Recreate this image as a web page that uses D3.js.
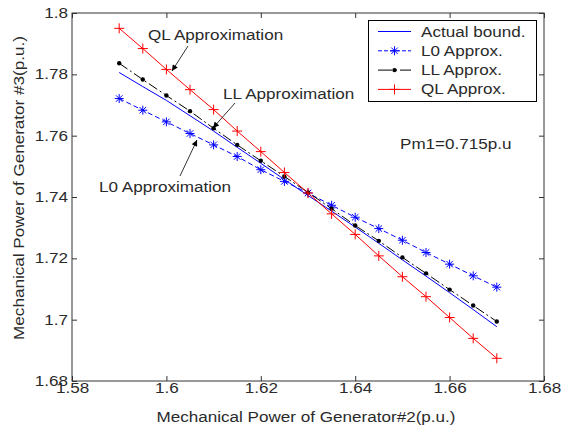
<!DOCTYPE html>
<html>
<head>
<meta charset="utf-8">
<script src="https://cdn.jsdelivr.net/npm/d3@7"></script>
<style>
  body { margin: 0; background: #fff; }
  svg text { font-family: "Liberation Sans", Arial, sans-serif; fill: #2a2a2a; }
</style>
</head>
<body>
<div id="chart"></div>
<script>
// x values (Generator #2 power), shared by every series
const xs = [1.59, 1.595, 1.6, 1.605, 1.61, 1.615, 1.62, 1.625, 1.63, 1.635, 1.64, 1.645, 1.65, 1.655, 1.66, 1.665, 1.67];

const actualBound = [1.7806, 1.7760, 1.7715, 1.7665, 1.7615, 1.7562, 1.7510, 1.7457, 1.7405, 1.7354, 1.7302, 1.7249, 1.7195, 1.7142, 1.7088, 1.7033, 1.6977];
const l0Approx = [1.7721, 1.7683, 1.7645, 1.7607, 1.7570, 1.7532, 1.7489, 1.7451, 1.7413, 1.7373, 1.7334, 1.7297, 1.7259, 1.7219, 1.7181, 1.7143, 1.7106];
const llApprox = [1.7836, 1.7783, 1.7731, 1.7680, 1.7624, 1.7570, 1.7518, 1.7467, 1.7415, 1.7362, 1.7307, 1.7257, 1.7203, 1.7151, 1.7098, 1.7046, 1.6994];
const qlApprox = [1.7950, 1.7884, 1.7816, 1.7750, 1.7685, 1.7615, 1.7548, 1.7480, 1.7413, 1.7345, 1.7278, 1.7208, 1.7140, 1.7075, 1.7007, 1.6939, 1.6874];

const xTicks = [1.58, 1.6, 1.62, 1.64, 1.66, 1.68];
const yTicks = [1.68, 1.7, 1.72, 1.74, 1.76, 1.78, 1.8];

const W = 561, H = 429;
const plot = { left: 72, right: 544, top: 13, bottom: 381 };
const fontSize = 14;
const stretch = 1.22; // the original font is wider than Arial at the same height

const svg = d3.select("#chart").append("svg")
  .attr("width", W).attr("height", H);

const x = d3.scaleLinear().domain([1.58, 1.68]).range([plot.left, plot.right]);
const y = d3.scaleLinear().domain([1.68, 1.8]).range([plot.bottom, plot.top]);

const axisColor = "#333";

// Axes (MATLAB style, inward ticks on all four sides)
function styleAxis(g) {
  g.select(".domain").remove();
  g.selectAll(".tick line").attr("stroke", axisColor);
  g.selectAll(".tick text").attr("font-size", fontSize).attr("fill", "#2a2a2a");
}
svg.append("g").attr("transform", `translate(0,${plot.bottom})`)
  .call(d3.axisBottom(x).tickValues(xTicks).tickSizeInner(-5).tickSizeOuter(0).tickPadding(2).tickFormat(d3.format("")))
  .call(styleAxis);
svg.append("g").attr("transform", `translate(0,${plot.top})`)
  .call(d3.axisTop(x).tickValues(xTicks).tickSizeInner(-5).tickSizeOuter(0).tickFormat(""))
  .call(styleAxis);
svg.append("g").attr("transform", `translate(${plot.left},0)`)
  .call(d3.axisLeft(y).tickValues(yTicks).tickSizeInner(-5).tickSizeOuter(0).tickPadding(4).tickFormat(d3.format("")))
  .call(styleAxis);
svg.append("g").attr("transform", `translate(${plot.right},0)`)
  .call(d3.axisRight(y).tickValues(yTicks).tickSizeInner(-5).tickSizeOuter(0).tickFormat(""))
  .call(styleAxis);

svg.append("rect")
  .attr("x", plot.left).attr("y", plot.top)
  .attr("width", plot.right - plot.left).attr("height", plot.bottom - plot.top)
  .attr("fill", "none").attr("stroke", axisColor);

// Axis labels
svg.append("text")
  .attr("x", 306).attr("y", 422)
  .attr("text-anchor", "middle").attr("font-size", fontSize)
  .text("Mechanical Power of Generator#2(p.u.)");
svg.append("text")
  .attr("transform", "translate(24,188) rotate(-90)")
  .attr("text-anchor", "middle").attr("font-size", fontSize)
  .text("Mechanical Power of Generator #3(p.u.)");

// Marker drawing helpers
function plus(g, cx, cy, color, s) {
  g.append("path").attr("d", `M${cx - s},${cy}H${cx + s}M${cx},${cy - s}V${cy + s}`)
    .attr("stroke", color).attr("stroke-width", 1).attr("fill", "none");
}
function star(g, cx, cy, color, s) {
  const d = s * 0.72;
  g.append("path").attr("d", `M${cx - s},${cy}H${cx + s}M${cx},${cy - s}V${cy + s}M${cx - d},${cy - d}L${cx + d},${cy + d}M${cx - d},${cy + d}L${cx + d},${cy - d}`)
    .attr("stroke", color).attr("stroke-width", 1).attr("fill", "none");
}
function dot(g, cx, cy, color) {
  g.append("circle").attr("cx", cx).attr("cy", cy).attr("r", 2.2).attr("fill", color);
}

const series = [
  { name: "Actual bound.", values: actualBound, color: "#0000ff", dash: null, marker: null },
  { name: "L0 Approx.", values: l0Approx, color: "#0000ff", dash: "5,3", marker: "star" },
  { name: "LL Approx.", values: llApprox, color: "#000", dash: "10,3,2,3", marker: "dot" },
  { name: "QL Approx.", values: qlApprox, color: "#ff0000", dash: null, marker: "plus" }
];

const line = d3.line().x(d => x(d[0])).y(d => y(d[1]));
const marks = svg.append("g");

function drawMarker(g, type, cx, cy, color) {
  if (type === "plus") plus(g, cx, cy, color, 5);
  else if (type === "star") star(g, cx, cy, color, 4.5);
  else if (type === "dot") dot(g, cx, cy, color);
}

series.forEach(s => {
  const pts = xs.map((v, i) => [v, s.values[i]]);
  marks.append("path").datum(pts)
    .attr("d", line)
    .attr("fill", "none")
    .attr("stroke", s.color)
    .attr("stroke-width", 1)
    .attr("stroke-dasharray", s.dash);
  if (s.marker) pts.forEach(p => drawMarker(marks, s.marker, x(p[0]), y(p[1]), s.color));
});

// Legend
const lg = svg.append("g");
lg.append("rect").attr("x", 368.5).attr("y", 20.5).attr("width", 168).attr("height", 81)
  .attr("fill", "#fff").attr("stroke", "#000");
series.forEach((s, i) => {
  const ly = 31.5 + i * 19.3;
  lg.append("line").attr("x1", 378).attr("x2", 411).attr("y1", ly).attr("y2", ly)
    .attr("stroke", s.color).attr("stroke-dasharray", s.dash ? (s.marker === "dot" ? "14,3,2,3" : "4,2") : null);
  if (s.marker) drawMarker(lg, s.marker, 394.5, ly, s.color);
  lg.append("text").attr("x", 421).attr("y", ly + 5).attr("font-size", fontSize).text(s.name);
});

// Annotations with arrows
const defs = svg.append("defs");
defs.append("marker").attr("id", "arrow").attr("viewBox", "0 0 10 10")
  .attr("refX", 10).attr("refY", 5).attr("markerWidth", 9).attr("markerHeight", 6)
  .attr("markerUnits", "userSpaceOnUse").attr("orient", "auto")
  .append("path").attr("d", "M0,0L10,5L0,10Z").attr("fill", "#000");

const notes = [
  { text: "QL Approximation", tx: 148, ty: 40, from: [188, 46], to: [172, 71] },
  { text: "LL Approximation", tx: 223, ty: 99, from: [235, 103], to: [213, 128] },
  { text: "L0 Approximation", tx: 99, ty: 192, from: [180, 176], to: [197, 140] }
];
notes.forEach(n => {
  svg.append("text").attr("x", n.tx).attr("y", n.ty).attr("font-size", fontSize).text(n.text);
  svg.append("line").attr("x1", n.from[0]).attr("y1", n.from[1]).attr("x2", n.to[0]).attr("y2", n.to[1])
    .attr("stroke", "#000").attr("stroke-width", 0.8).attr("marker-end", "url(#arrow)");
});

svg.append("text").attr("x", 400).attr("y", 149).attr("font-size", fontSize).text("Pm1=0.715p.u");

// Widen every label to mimic the original's broad sans-serif
svg.selectAll("text").each(function() {
  const len = this.getComputedTextLength();
  if (len > 0) d3.select(this).attr("textLength", len * stretch).attr("lengthAdjust", "spacingAndGlyphs");
});
</script>
</body>
</html>
